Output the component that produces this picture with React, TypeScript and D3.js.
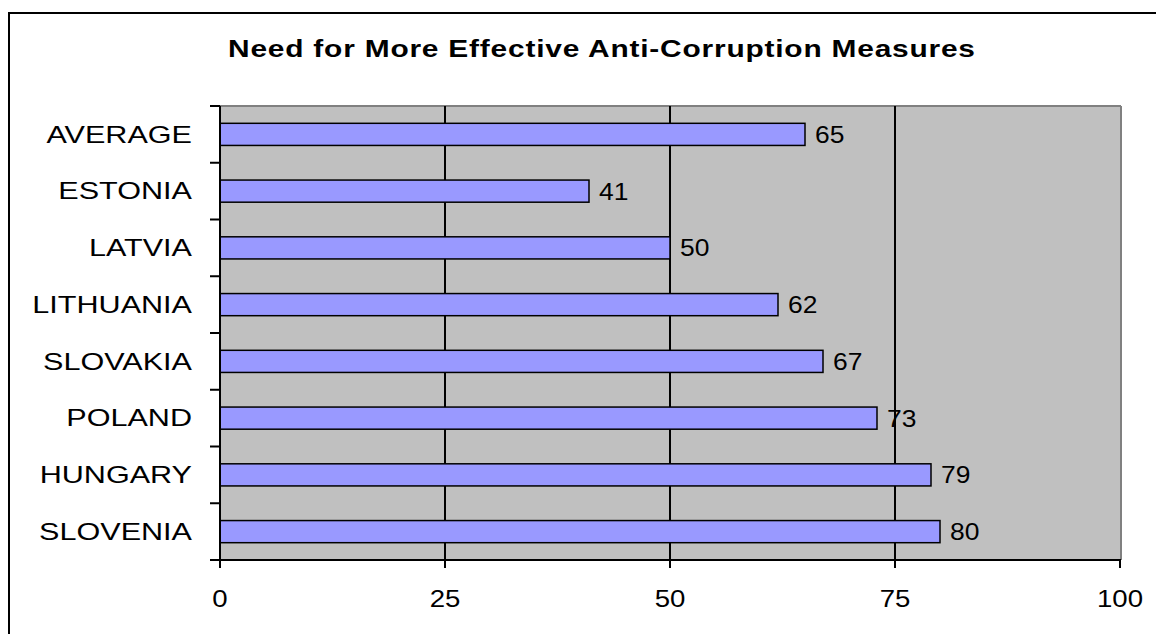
import React from "react";
import * as d3 from "d3";

const categories: string[] = ["AVERAGE", "ESTONIA", "LATVIA", "LITHUANIA", "SLOVAKIA", "POLAND", "HUNGARY", "SLOVENIA"];
const values: number[] = [65, 41, 50, 62, 67, 73, 79, 80];
const xTicks: number[] = [0, 25, 50, 75, 100];
const gridTicks: number[] = [25, 50, 75];
const title = "Need for More Effective Anti-Corruption Measures";

const W = 1156;
const H = 634;
const plot = { left: 220, right: 1120, top: 106, bottom: 560 };
const FONT = "'Liberation Sans', Arial, Helvetica, sans-serif";
const SX = 1.3;

export default function App() {
  const x = d3.scaleLinear().domain([0, 100]).range([plot.left, plot.right]);
  const y = d3
    .scaleBand<string>()
    .domain(categories)
    .range([plot.top, plot.bottom])
    .paddingInner(0.61)
    .paddingOuter(0.305);
  const step = y.step();
  const bw = y.bandwidth();
  const boundaries = d3.range(categories.length + 1).map((i) => plot.top + i * step);

  return (
    <svg width={W} height={H} style={{ position: "absolute", left: 0, top: 0, background: "#fff" }}>
      <rect x={0} y={0} width={W} height={H} fill="#fff" />
      {/* outer frame */}
      <rect x={9} y={13} width={1160} height={640} fill="none" stroke="#000" strokeWidth={2} />
      {/* title */}
      <text
        transform={`translate(601.5,57) scale(${SX},1)`}
        textAnchor="middle"
        fontFamily={FONT}
        fontWeight="bold"
        fontSize={23}
        textLength={747 / SX}
        lengthAdjust="spacing"
        fill="#000"
      >
        {title}
      </text>
      {/* plot area */}
      <rect x={plot.left} y={plot.top} width={plot.right - plot.left} height={plot.bottom - plot.top} fill="#C0C0C0" />
      <line x1={plot.left} x2={plot.right + 1} y1={plot.top} y2={plot.top} stroke="#808080" strokeWidth={2} />
      <line x1={plot.right + 1} x2={plot.right + 1} y1={plot.top} y2={plot.bottom} stroke="#808080" strokeWidth={2} />
      {/* gridlines */}
      {gridTicks.map((t) => (
        <line key={"g" + t} x1={x(t)} x2={x(t)} y1={plot.top} y2={plot.bottom} stroke="#000" strokeWidth={2} />
      ))}
      {/* bars */}
      {categories.map((c, i) => (
        <rect
          key={"b" + c}
          x={x(0)}
          y={y(c)!}
          width={x(values[i]) - x(0)}
          height={bw}
          fill="#9999FF"
          stroke="#000"
          strokeWidth={1.5}
        />
      ))}
      {/* value labels */}
      {categories.map((c, i) => (
        <text
          key={"v" + c}
          transform={`translate(${x(values[i]) + 10},${y(c)! + bw / 2 + 8.5}) scale(1.15,1)`}
          fontFamily={FONT}
          fontSize={23}
          fill="#000"
        >
          {values[i]}
        </text>
      ))}
      {/* y axis */}
      <line x1={plot.left} x2={plot.left} y1={plot.top} y2={plot.bottom + 8} stroke="#000" strokeWidth={2} />
      {boundaries.map((b, i) => (
        <line key={"yt" + i} x1={plot.left - 10} x2={plot.left} y1={b} y2={b} stroke="#000" strokeWidth={2} />
      ))}
      {categories.map((c) => (
        <text
          key={"c" + c}
          transform={`translate(192,${y(c)! + bw / 2 + 8.3}) scale(1.33,1)`}
          textAnchor="end"
          fontFamily={FONT}
          fontSize={23}
          fill="#000"
        >
          {c}
        </text>
      ))}
      {/* x axis */}
      <line x1={plot.left - 10} x2={plot.right + 1} y1={plot.bottom} y2={plot.bottom} stroke="#000" strokeWidth={2} />
      {xTicks.map((t) => (
        <line key={"xt" + t} x1={x(t)} x2={x(t)} y1={plot.bottom} y2={plot.bottom + 8} stroke="#000" strokeWidth={2} />
      ))}
      {xTicks.map((t) => (
        <text
          key={"xl" + t}
          transform={`translate(${x(t)},607) scale(1.2,1)`}
          textAnchor="middle"
          fontFamily={FONT}
          fontSize={23}
          fill="#000"
        >
          {t}
        </text>
      ))}
    </svg>
  );
}
